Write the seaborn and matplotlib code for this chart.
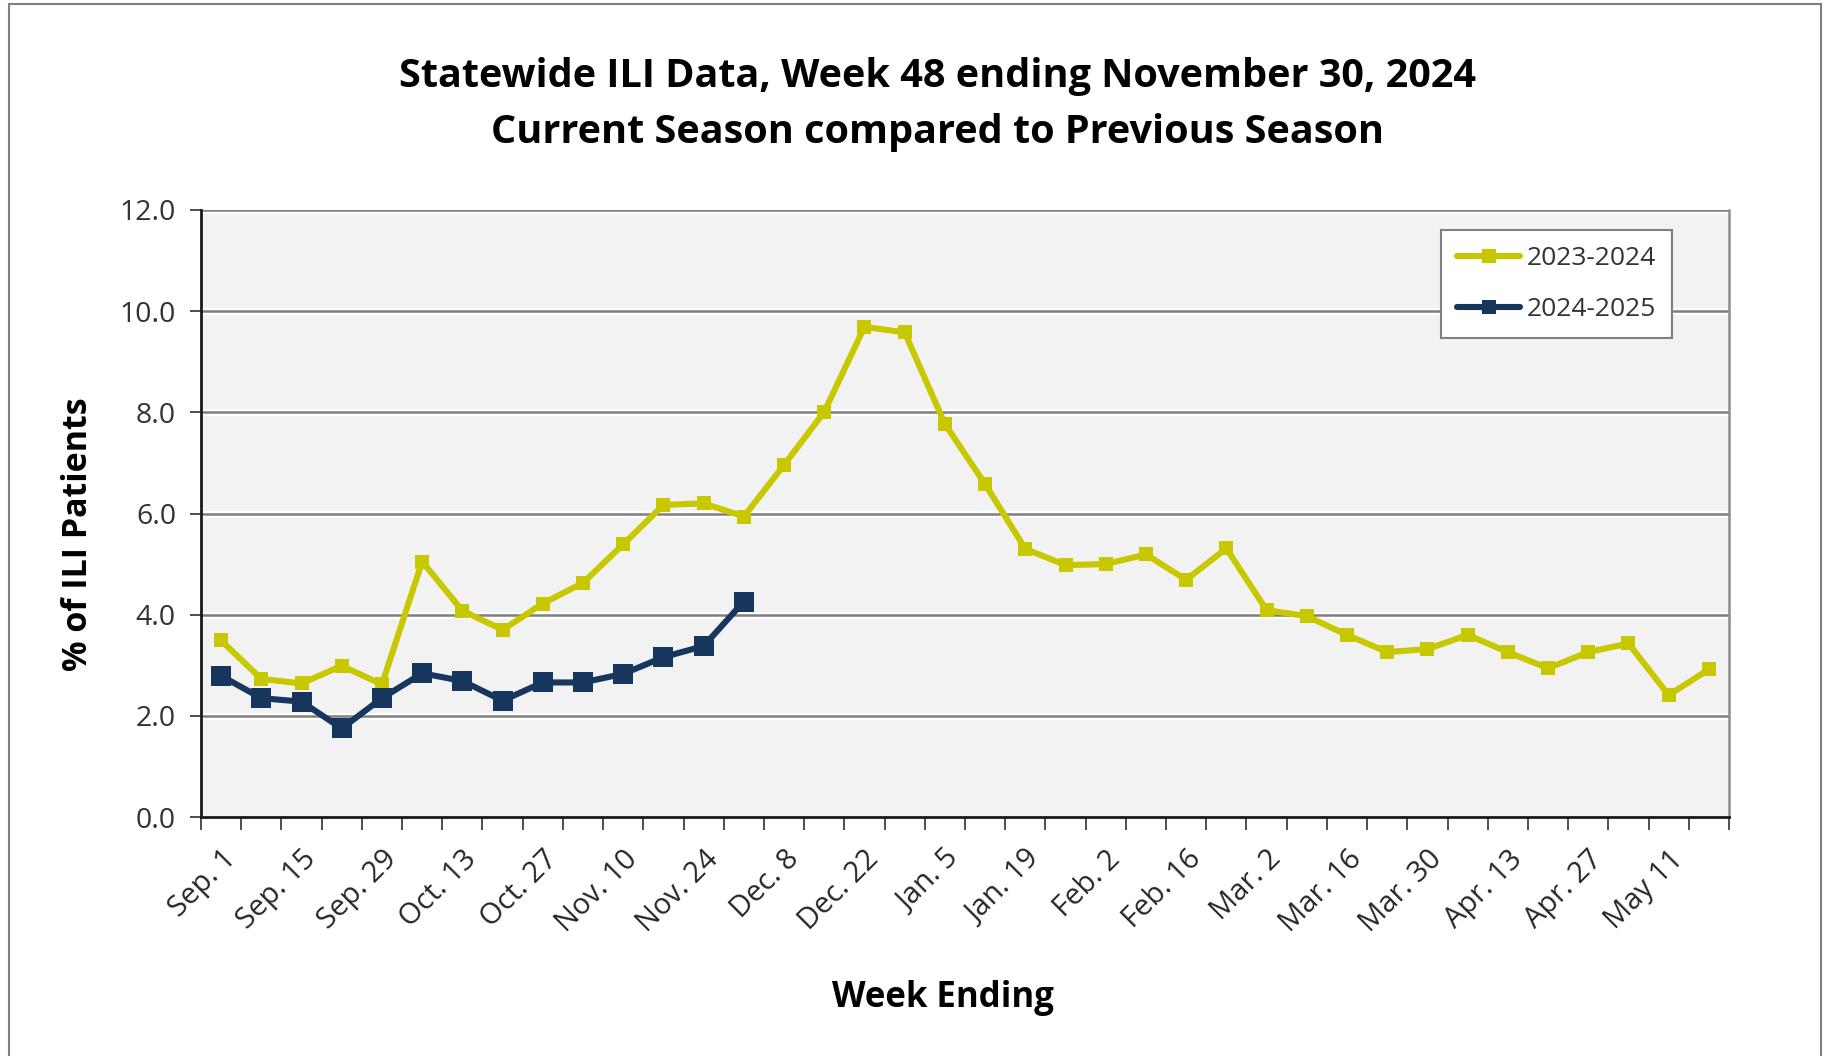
import numpy as np
import pandas as pd
import matplotlib
matplotlib.use("Agg")
import matplotlib.pyplot as plt
import matplotlib.transforms as mtransforms
import seaborn as sns
from matplotlib.patches import Rectangle

# ---- data ----
week_labels = ["Sep. 1", "Sep. 15", "Sep. 29", "Oct. 13", "Oct. 27", "Nov. 10", "Nov. 24",
               "Dec. 8", "Dec. 22", "Jan. 5", "Jan. 19", "Feb. 2", "Feb. 16", "Mar. 2",
               "Mar. 16", "Mar. 30", "Apr. 13", "Apr. 27", "May 11"]
n_weeks = 38
season_prev = "2023-2024"
season_curr = "2024-2025"
values_prev = [3.49, 2.73, 2.64, 2.99, 2.62, 5.05, 4.08, 3.70, 4.22, 4.63, 5.39, 6.17, 6.20, 5.94,
               6.96, 8.01, 9.69, 9.58, 7.77, 6.58, 5.30, 4.98, 5.00, 5.19, 4.69, 5.31, 4.09, 3.97,
               3.60, 3.26, 3.32, 3.60, 3.26, 2.94, 3.26, 3.43, 2.41, 2.92]
values_curr = [2.79, 2.35, 2.28, 1.75, 2.35, 2.84, 2.69, 2.30, 2.66, 2.66, 2.83, 3.16, 3.38, 4.26]
y_ticks = [0, 2, 4, 6, 8, 10, 12]

df = pd.concat([
    pd.DataFrame({"week": np.arange(len(values_prev)), "pct": values_prev, "season": season_prev}),
    pd.DataFrame({"week": np.arange(len(values_curr)), "pct": values_curr, "season": season_curr}),
], ignore_index=True)

YELLOW = "#C8C800"
NAVY = "#17365D"

sns.set_theme(style="white")
plt.rcParams["font.family"] = ["Open Sans", "DejaVu Sans"]

fig = plt.figure(figsize=(18.30, 10.56), dpi=100)
ax = fig.add_axes([201 / 1830, 1 - 817 / 1056, (1729 - 201) / 1830, (817 - 210) / 1056])
ax.set_facecolor("#F2F2F2")

# grid lines
for yv in y_ticks[1:]:
    ax.axhline(yv, color="#FFFFFF", lw=5.0, zorder=0.5)
    ax.axhline(yv, color="#7F7F7F", lw=1.8, zorder=0.6)

sns.lineplot(data=df[df.season == season_prev], x="week", y="pct", color=YELLOW,
             marker="s", markersize=10, markeredgewidth=0, lw=4.4, ax=ax,
             label=season_prev, zorder=3)
sns.lineplot(data=df[df.season == season_curr], x="week", y="pct", color=NAVY,
             marker="s", markersize=15, markeredgewidth=0, lw=4.4, ax=ax,
             label=season_curr, zorder=4)

ax.set_xlim(-0.5, n_weeks - 0.5)
ax.set_ylim(0, 12)
ax.set_yticks(y_ticks)
ax.set_yticklabels([f"{v:.1f}" for v in y_ticks], fontsize=20.5, color="#333333")

# category boundary ticks, labels on every other category
ax.set_xticks(np.arange(-0.5, n_weeks, 1.0))
ax.set_xticklabels([])
ax.set_xticks(np.arange(0, n_weeks, 2), minor=True)
ax.set_xticklabels(week_labels, minor=True, rotation=45, ha="right", va="top",
                   rotation_mode="anchor", fontsize=21, color="#262626")
shift = mtransforms.ScaledTranslation(-8 / 100, 0, fig.dpi_scale_trans)
for lbl in ax.get_xticklabels(minor=True):
    lbl.set_transform(lbl.get_transform() + shift)
ax.tick_params(axis="x", which="major", direction="out", length=9, width=1.3,
               color="#404040", bottom=True)
ax.tick_params(axis="x", which="minor", length=0, pad=20, bottom=True)
ax.tick_params(axis="y", direction="out", length=8, width=1.3, color="#404040", left=True, pad=10)

for s in ["left", "bottom"]:
    ax.spines[s].set_color("#1A1A1A")
    ax.spines[s].set_linewidth(2.0)
ax.spines["right"].set_color("#8C8C8C")
ax.spines["right"].set_linewidth(1.8)
ax.spines["top"].set_visible(False)

ax.set_xlabel("Week Ending", fontsize=25, fontweight="bold", color="black")
ax.xaxis.set_label_coords((943 - 201) / 1528, (817 - 980) / 607)
ax.set_ylabel("% of ILI Patients", fontsize=24.5, fontweight="bold", color="black")
ax.yaxis.set_label_coords((95 - 201) / 1528, (817 - 534) / 607)

fig.text(937 / 1830, 1 - 76 / 1056, "Statewide ILI Data, Week 48 ending November 30, 2024",
         ha="center", va="center", fontsize=28.5, fontweight="bold", color="black")
fig.text(937 / 1830, 1 - 132 / 1056, "Current Season compared to Previous Season",
         ha="center", va="center", fontsize=28.5, fontweight="bold", color="black")

leg = ax.legend(loc="upper right", bbox_to_anchor=((1672 - 201) / 1528, (817 - 230) / 607),
                fontsize=19, frameon=True, fancybox=False, edgecolor="#7F7F7F",
                facecolor="white", framealpha=1, handlelength=2.4, labelspacing=1.0,
                borderpad=0.6, handletextpad=0.25, borderaxespad=0)
leg.get_frame().set_linewidth(1.5)
for h in leg.legend_handles:
    h.set_markersize(10)
for t in leg.get_texts():
    t.set_color("#333333")

# outer frame
fig.patches.append(Rectangle((9 / 1830, -0.01), (1821 - 9) / 1830, 1.01 - 4 / 1056,
                             transform=fig.transFigure, fill=False, edgecolor="#7F7F7F", lw=1.5))

fig.savefig("out.png", dpi=100)
